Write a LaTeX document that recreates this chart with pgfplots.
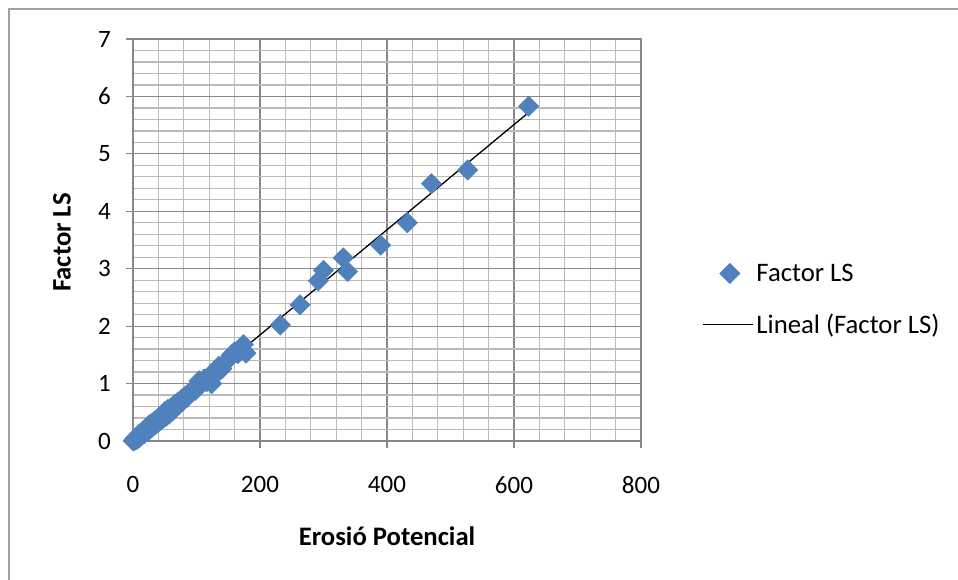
\documentclass[border=0pt]{standalone}
\usepackage{pgfplots}
\usepackage{pgfplotstable}
\pgfplotsset{compat=1.18}
\usepackage{fontspec}
\setmainfont{Carlito}

\definecolor{excelblue}{HTML}{4F81BD}
\definecolor{majorgrid}{HTML}{878787}
\definecolor{minorgrid}{HTML}{BBBBBB}
\definecolor{framegray}{HTML}{A0A0A0}

% legend images: marker centred over the line sample's width
\pgfplotsset{
  markerlegend/.style={legend image code/.code={%
    \path[draw=none, fill=none] (0pt,0pt) -- (50pt,0pt);
    \draw[##1] plot coordinates {(27pt,0pt)};}},
  linelegend/.style={legend image code/.code={%
    \draw[##1] (0pt,0pt) -- (50pt,0pt);}},
}

% Erosió potencial vs. factor LS
\pgfplotstableread{
x y
0.5 0.00
1 0.01
2 0.02
3 0.04
4 0.02
5 0.06
6 0.03
8 0.09
9 0.05
10 0.12
12 0.08
13 0.14
15 0.11
16 0.18
18 0.13
20 0.21
21 0.16
23 0.25
25 0.19
26 0.28
28 0.22
30 0.31
32 0.26
34 0.35
36 0.29
38 0.37
40 0.33
42 0.42
44 0.36
46 0.45
48 0.40
50 0.51
52 0.43
55 0.55
57 0.47
60 0.58
62 0.52
65 0.63
68 0.60
70 0.67
73 0.64
76 0.72
79 0.70
82 0.78
85 0.76
88 0.83
92 0.85
95 0.90
98 0.88
100 0.96
104 1.05
108 0.99
112 1.08
116 1.03
120 1.12
124 1.00
128 1.22
132 1.18
135 1.30
140 1.26
145 1.36
150 1.42
155 1.50
160 1.55
165 1.52
170 1.62
174 1.68
178 1.53
232 2.02
263 2.37
292 2.79
300 2.97
331 3.19
338 2.95
390 3.41
432 3.80
470 4.48
527 4.72
623 5.83
}\lsdata

\begin{document}
\begin{tikzpicture}
\useasboundingbox (0pt,0pt) rectangle (958pt,580pt);
\draw[framegray, line width=1.5pt] (9pt,0pt) -- (9pt,571pt) -- (958pt,571pt);
\begin{axis}[
  at={(133pt,139pt)}, anchor=south west,
  scale only axis, width=508pt, height=402pt,
  xmin=0, xmax=800, ymin=0, ymax=7,
  xtick={0,200,...,800}, ytick={0,1,...,7},
  minor x tick num=4, minor y tick num=4,
  grid=both,
  major grid style={majorgrid, line width=1.2pt},
  minor grid style={minorgrid, line width=1.3pt},
  axis line style={majorgrid, line width=1.2pt},
  tick align=outside, tick pos=left,
  major tick length=7pt, minor tick length=0pt,
  major tick style={majorgrid, line width=1.2pt},
  clip=false,
  /pgf/number format/assume math mode=true,
  tick label style={font=\fontsize{25}{30}\selectfont},
  yticklabel style={anchor=east, inner sep=0pt, xshift=-15pt},
  xticklabel style={anchor=north, inner sep=0pt, yshift=-28pt},
  xlabel={Erosió Potencial},
  xlabel style={at={(axis description cs:0.5,-0.236)}, anchor=center,
    font=\bfseries\fontsize{26.7}{32}\selectfont},
  ylabel={Factor LS},
  ylabel style={at={(axis description cs:-0.14,0.494)}, anchor=center,
    font=\bfseries\fontsize{26.7}{32}\selectfont},
  legend style={at={(axis description cs:1.12,0.352)}, anchor=west,
    draw=none, fill=none, inner sep=0pt, row sep=25pt,
    font=\fontsize{26.7}{32}\selectfont,
    cells={anchor=west}, nodes={inner sep=3pt}},
]
\addplot[only marks, mark=square*, mark size=7.2pt,
  mark options={rotate=45, fill=excelblue, draw=excelblue},
  markerlegend]
  table[x=x, y=y] {\lsdata};
\addplot[black, line width=1.3pt, no marks, linelegend]
  coordinates {(0.5,0.02) (623,5.72)};
\legend{Factor LS, Lineal (Factor LS)}
\end{axis}
\end{tikzpicture}
\end{document}
